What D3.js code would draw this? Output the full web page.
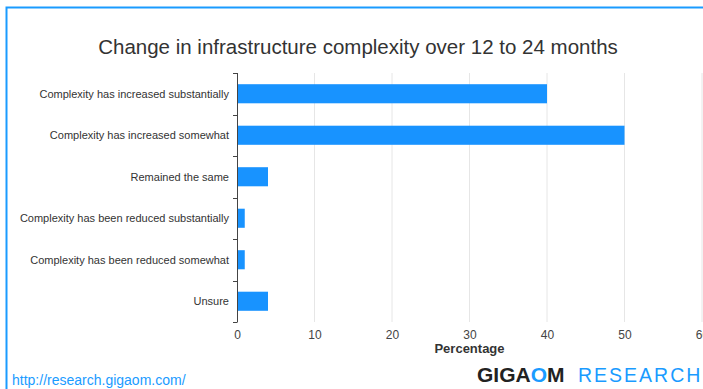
<!DOCTYPE html>
<html>
<head>
<meta charset="utf-8">
<script src="https://cdn.jsdelivr.net/npm/d3@7"></script>
<style>
  body { margin: 0; background: #fff; }
  svg { display: block; font-family: "Liberation Sans", Arial, sans-serif; }
</style>
</head>
<body>
<div id="chart"></div>
<script>
// data
const categories = [
  "Complexity has increased substantially",
  "Complexity has increased somewhat",
  "Remained the same",
  "Complexity has been reduced substantially",
  "Complexity has been reduced somewhat",
  "Unsure"
];
const values = [40, 50, 4, 1, 1, 4];
const xTicks = [0, 10, 20, 30, 40, 50, 60];

const W = 703, H = 389;
const margin = {top: 73, right: 1, bottom: 67, left: 237};
const width = W - margin.left - margin.right;
const height = H - margin.top - margin.bottom;

const svg = d3.select("#chart").append("svg")
  .attr("width", W)
  .attr("height", H);

// frame (blue border, left and top visible)
svg.append("path")
  .attr("d", "M6.5," + H + "V7.5H" + W)
  .attr("fill", "none")
  .attr("stroke", "#1a9bff")
  .attr("stroke-width", 2);

// title
svg.append("text")
  .attr("x", 358).attr("y", 54)
  .attr("text-anchor", "middle")
  .attr("fill", "#333")
  .style("font-size", "20.5px")
  .text("Change in infrastructure complexity over 12 to 24 months");

const g = svg.append("g")
  .attr("transform", "translate(" + margin.left + "," + margin.top + ")");

const x = d3.scaleLinear().domain([0, 60]).range([0, width]);
const y = d3.scaleBand().domain(categories).range([0, height]).paddingInner(0.54).paddingOuter(0.27);

// grid
g.append("g")
  .selectAll("line")
  .data(xTicks.filter(d => d > 0))
  .join("line")
  .attr("x1", d => x(d)).attr("x2", d => x(d))
  .attr("y1", 0).attr("y2", height)
  .attr("stroke", "#e6e6e6");

// bars
g.append("g")
  .selectAll("rect")
  .data(values)
  .join("rect")
  .attr("x", x(0))
  .attr("y", (d, i) => y(categories[i]))
  .attr("width", d => x(d) - x(0))
  .attr("height", y.bandwidth())
  .attr("fill", "#1893ff");

// y axis: line with ticks at band boundaries
const bounds = d3.range(categories.length + 1).map(i => i * height / categories.length);
g.append("line")
  .attr("x1", 0.5).attr("x2", 0.5)
  .attr("y1", 0).attr("y2", height)
  .attr("stroke", "#444");
g.append("g")
  .selectAll("line")
  .data(bounds)
  .join("line")
  .attr("x1", -4).attr("x2", 0.5)
  .attr("y1", d => Math.round(d) + 0.5).attr("y2", d => Math.round(d) + 0.5)
  .attr("stroke", "#444");

// category labels
g.append("g")
  .selectAll("text")
  .data(categories)
  .join("text")
  .attr("x", -8)
  .attr("y", d => y(d) + y.bandwidth() / 2)
  .attr("dy", "0.35em")
  .attr("text-anchor", "end")
  .attr("fill", "#333")
  .style("font-size", "11px")
  .text(d => d);

// x axis labels
const xAxis = g.append("g")
  .attr("transform", "translate(0," + height + ")")
  .call(d3.axisBottom(x).tickValues(xTicks).tickSize(0).tickPadding(8));
xAxis.select(".domain").remove();
xAxis.selectAll("text")
  .attr("fill", "#444")
  .style("font-size", "12px")
  .style("font-family", "'Liberation Sans', Arial, sans-serif");

g.append("text")
  .attr("x", width / 2).attr("y", height + 31)
  .attr("text-anchor", "middle")
  .attr("fill", "#333")
  .style("font-size", "13px")
  .style("font-weight", "bold")
  .text("Percentage");

// footer
svg.append("text")
  .attr("x", 12).attr("y", 385)
  .attr("fill", "#1a9bff")
  .style("font-size", "14px")
  .text("http://research.gigaom.com/");

const logo = svg.append("text")
  .attr("x", 477).attr("y", 382);
logo.append("tspan").attr("fill", "#222").style("font-weight", "bold").style("font-size", "21px").text("GIGA");
logo.append("tspan").attr("fill", "#1a9bff").style("font-weight", "bold").style("font-size", "21px").text("O");
logo.append("tspan").attr("fill", "#222").style("font-weight", "bold").style("font-size", "21px").text("M");
logo.append("tspan").attr("x", 578).attr("fill", "#1a9bff").style("font-size", "19.5px").style("letter-spacing", "2px").text("RESEARCH");
</script>
</body>
</html>
